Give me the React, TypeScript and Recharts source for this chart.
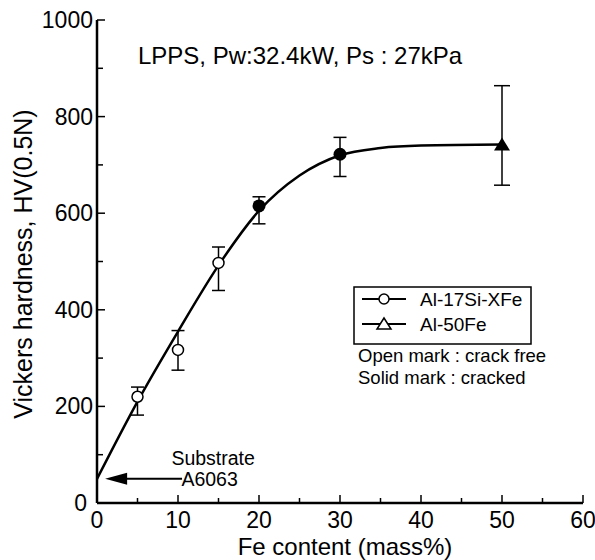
import React from 'react';
import {
  ComposedChart,
  Line,
  Scatter,
  XAxis,
  YAxis,
  ErrorBar,
  ReferenceLine,
  ReferenceDot,
} from 'recharts';

const FONT = '"Liberation Sans", Arial, Helvetica, sans-serif';

// Tick values
const xTicks = [0, 5, 10, 15, 20, 25, 30, 35, 40, 45, 50, 55, 60];
const yTicks = [0, 100, 200, 300, 400, 500, 600, 700, 800, 900, 1000];

// Fitted curve
const curveX = [0, 5, 10, 15, 20, 25, 30, 35, 40, 50];
const curveY = [50, 210, 355, 492, 605, 678, 720, 735, 740, 742];

// Al-17Si-XFe, open marks (crack free)
const openX = [5, 10, 15];
const openY = [220, 317, 497];
const openErrLow = [38, 42, 57];
const openErrHigh = [20, 40, 33];

// Al-17Si-XFe, solid marks (cracked)
const solidX = [20, 30];
const solidY = [615, 722];
const solidErrLow = [37, 46];
const solidErrHigh = [19, 35];

// Al-50Fe, solid triangle
const triX = [50];
const triY = [740];
const triErrLow = [82];
const triErrHigh = [124];

const substrateValue = 50;

const curveData = curveX.map((x, i) => ({ x, y: curveY[i] }));
const openData = openX.map((x, i) => ({ x, y: openY[i], err: [openErrLow[i], openErrHigh[i]] }));
const solidData = solidX.map((x, i) => ({ x, y: solidY[i], err: [solidErrLow[i], solidErrHigh[i]] }));
const triData = triX.map((x, i) => ({ x, y: triY[i], err: [triErrLow[i], triErrHigh[i]] }));

const BottomTick = (props: any) => {
  const { x, y, payload } = props;
  const v = payload.value;
  const major = v % 10 === 0;
  return (
    <g>
      <line x1={x} x2={x} y1={y} y2={y - (major ? 8 : 5)} stroke="#000" strokeWidth={1.5} />
      {major && (
        <text x={x} y={y + 25} textAnchor="middle" fontSize={23} fontFamily={FONT} fill="#000">
          {v}
        </text>
      )}
    </g>
  );
};

const TopTick = (props: any) => {
  const { x, y, payload } = props;
  const major = payload.value % 10 === 0;
  return <line x1={x} x2={x} y1={y} y2={y + (major ? 8 : 5)} stroke="#000" strokeWidth={1.5} />;
};

const LeftTick = (props: any) => {
  const { x, y, payload } = props;
  const v = payload.value;
  const major = v % 200 === 0;
  return (
    <g>
      <line x1={x} x2={x + (major ? 8 : 6)} y1={y} y2={y} stroke="#000" strokeWidth={1.5} />
      {major && (
        <text
          x={v === 0 ? x - 10 : x - 4}
          y={y + 8}
          textAnchor="end"
          fontSize={23}
          fontFamily={FONT}
          fill="#000"
        >
          {v}
        </text>
      )}
    </g>
  );
};

const RightTick = (props: any) => {
  const { x, y, payload } = props;
  const major = payload.value % 200 === 0;
  return <line x1={x} x2={x - (major ? 8 : 6)} y1={y} y2={y} stroke="#000" strokeWidth={1.5} />;
};

const OpenCircle = (props: any) => (
  <circle cx={props.cx} cy={props.cy} r={5.5} fill="#fff" stroke="#000" strokeWidth={1.5} />
);
const SolidCircle = (props: any) => <circle cx={props.cx} cy={props.cy} r={6.5} fill="#000" />;
const SolidTriangle = (props: any) => {
  const { cx, cy } = props;
  return (
    <polygon
      points={`${cx},${cy - 8} ${cx - 8},${cy + 5} ${cx + 8},${cy + 5}`}
      fill="#000"
    />
  );
};

const ArrowHead = (props: any) => {
  const { cx, cy } = props;
  return <polygon points={`${cx},${cy} ${cx + 22},${cy - 6} ${cx + 22},${cy + 6}`} fill="#000" />;
};

const SubstrateText = (props: any) => {
  const { cx, cy } = props;
  return (
    <g>
      <text x={cx - 9} y={cy - 14} fontSize={19.5} fontFamily={FONT} fill="#000">
        Substrate
      </text>
      <text x={cx + 1} y={cy + 7} fontSize={19.5} fontFamily={FONT} fill="#000">
        A6063
      </text>
    </g>
  );
};

export default function App() {
  return (
    <div style={{ position: 'absolute', left: 0, top: 0, width: 595, height: 560, background: '#fff' }}>
      <ComposedChart
        width={595}
        height={560}
        margin={{ top: 20, right: 12, bottom: 7, left: 0 }}
      >
        <XAxis
          xAxisId={0}
          dataKey="x"
          type="number"
          domain={[0, 60]}
          ticks={xTicks}
          interval={0}
          height={50}
          tickSize={0}
          tickMargin={0}
          tickLine={false}
          tick={<BottomTick />}
          axisLine={{ stroke: '#000', strokeWidth: 2.5 }}
        />
        <XAxis
          xAxisId="top"
          orientation="top"
          dataKey="x"
          type="number"
          domain={[0, 60]}
          ticks={xTicks}
          interval={0}
          height={0}
          tickSize={0}
          tickMargin={0}
          tickLine={false}
          tick={<TopTick />}
          axisLine={{ stroke: '#000', strokeWidth: 2.5 }}
        />
        <YAxis
          yAxisId={0}
          type="number"
          domain={[0, 1000]}
          ticks={yTicks}
          interval={0}
          width={97}
          tickSize={0}
          tickMargin={0}
          tickLine={false}
          tick={<LeftTick />}
          axisLine={{ stroke: '#000', strokeWidth: 2.5 }}
        />
        <YAxis
          yAxisId="right"
          orientation="right"
          type="number"
          domain={[0, 1000]}
          ticks={yTicks}
          interval={0}
          width={0}
          tickSize={0}
          tickMargin={0}
          tickLine={false}
          tick={<RightTick />}
          axisLine={{ stroke: '#000', strokeWidth: 2.5 }}
        />

        <Line
          data={curveData}
          dataKey="y"
          type="monotone"
          dot={false}
          stroke="#000"
          strokeWidth={2.5}
          isAnimationActive={false}
        />

        <ReferenceLine
          segment={[
            { x: 3.5, y: substrateValue },
            { x: 10.5, y: substrateValue },
          ]}
          stroke="#000"
          strokeWidth={2}
        />
        <ReferenceDot x={1} y={substrateValue} r={1} shape={<ArrowHead />} />
        <ReferenceDot x={10.3} y={substrateValue} r={1} shape={<SubstrateText />} />

        <Scatter data={openData} dataKey="y" shape={<OpenCircle />} isAnimationActive={false}>
          <ErrorBar dataKey="err" direction="y" width={6.5} stroke="#000" strokeWidth={1.5} isAnimationActive={false} />
        </Scatter>
        <Scatter data={solidData} dataKey="y" shape={<SolidCircle />} isAnimationActive={false}>
          <ErrorBar dataKey="err" direction="y" width={6.5} stroke="#000" strokeWidth={1.5} isAnimationActive={false} />
        </Scatter>
        <Scatter data={triData} dataKey="y" shape={<SolidTriangle />} isAnimationActive={false}>
          <ErrorBar dataKey="err" direction="y" width={8} stroke="#000" strokeWidth={1.5} isAnimationActive={false} />
        </Scatter>
      </ComposedChart>

      <svg
        width={595}
        height={560}
        style={{ position: 'absolute', left: 0, top: 0, pointerEvents: 'none' }}
        fontFamily={FONT}
      >
        <text x={138} y={64} fontSize={24} fill="#000">
          LPPS, Pw:32.4kW, Ps : 27kPa
        </text>

        <rect x={354} y={287} width={177} height={57} fill="#fff" stroke="#000" strokeWidth={1.5} />
        <line x1={362} x2={406} y1={299} y2={299} stroke="#000" strokeWidth={2} />
        <circle cx={384} cy={299} r={5} fill="#fff" stroke="#000" strokeWidth={1.5} />
        <text x={420} y={306} fontSize={19} fill="#000">
          Al-17Si-XFe
        </text>
        <line x1={362} x2={406} y1={324} y2={324} stroke="#000" strokeWidth={2} />
        <polygon points="384,318 377,329 391,329" fill="#fff" stroke="#000" strokeWidth={1.5} />
        <text x={420} y={331} fontSize={19} fill="#000">
          Al-50Fe
        </text>

        <text x={358} y={362} fontSize={18.5} fill="#000">
          Open mark : crack free
        </text>
        <text x={358} y={384} fontSize={18.5} fill="#000">
          Solid mark : cracked
        </text>

        <text x={345} y={555} fontSize={24} textAnchor="middle" fill="#000">
          Fe content (mass%)
        </text>
        <text
          x={0}
          y={0}
          fontSize={25}
          textAnchor="middle"
          fill="#000"
          transform="translate(32,264) rotate(-90)"
        >
          Vickers hardness, HV(0.5N)
        </text>
      </svg>
    </div>
  );
}
